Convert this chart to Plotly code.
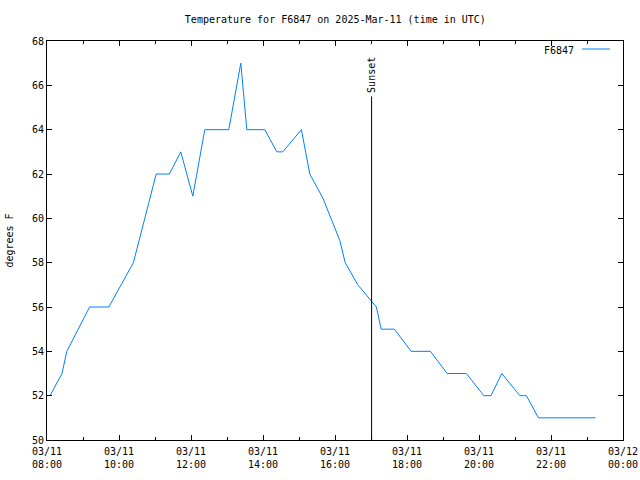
import plotly.graph_objects as go

times = ["08:05", "08:25", "08:33", "09:11", "09:43", "10:24", "11:02", "11:24", "11:43",
         "12:03", "12:23", "13:03", "13:23", "13:33", "14:03", "14:23", "14:33", "15:04",
         "15:18", "15:40", "16:08", "16:17", "16:38", "17:02", "17:09", "17:17",
         "17:39", "18:07", "18:39", "19:07", "19:39", "20:08", "20:20", "20:38", "21:08",
         "21:19", "21:39", "23:14"]
temps = [52, 53, 54, 56, 56, 58, 62, 62, 63,
         61, 64, 64, 67, 64, 64, 63, 63, 64,
         62, 60.9, 59, 58, 57, 56.2, 56, 55,
         55, 54, 54, 53, 53, 52, 52, 53, 52,
         52, 51, 51]
station = "F6847"
date = "2025-03-11"
sunset = "17:01"
tick_vals = ["2025-03-11 08:00", "2025-03-11 10:00", "2025-03-11 12:00", "2025-03-11 14:00",
             "2025-03-11 16:00", "2025-03-11 18:00", "2025-03-11 20:00", "2025-03-11 22:00",
             "2025-03-12 00:00"]
tick_text = ["03/11<br>08:00", "03/11<br>10:00", "03/11<br>12:00", "03/11<br>14:00",
             "03/11<br>16:00", "03/11<br>18:00", "03/11<br>20:00", "03/11<br>22:00",
             "03/12<br>00:00"]

x = [f"{date} {t}" for t in times]
FONT = "DejaVu Sans Mono"
BLUE = "rgb(0,128,255)"

fig = go.Figure()
fig.add_trace(go.Scatter(x=x, y=temps, mode="lines", name=station,
                         line=dict(color=BLUE, width=1), showlegend=False))

sx = f"{date} {sunset}"
fig.add_shape(type="line", x0=sx, x1=sx, y0=50, y1=65.5, xref="x", yref="y",
              line=dict(color="black", width=1))
fig.add_annotation(x=sx, y=65.55, text="Sunset", textangle=-90, showarrow=False,
                   xanchor="center", yanchor="bottom", font=dict(family=FONT, size=10, color="black"))

pw, ph = 640 - 47 - 17, 480 - 41 - 40
def px(xp):
    return (xp - 47) / pw
def py(yp):
    return (480 - 40 - yp) / ph

# legend (gnuplot style: text then line sample)
fig.add_annotation(x=px(576), y=py(50), xref="paper", yref="paper", text=station, showarrow=False,
                   xanchor="right", yanchor="middle", font=dict(family=FONT, size=10, color="black"))
fig.add_shape(type="line", xref="paper", yref="paper", x0=px(582), x1=px(610), y0=py(49), y1=py(49),
              line=dict(color=BLUE, width=1))

fig.update_layout(
    width=640, height=480,
    margin=dict(l=47, r=17, t=41, b=40),
    paper_bgcolor="white", plot_bgcolor="white",
    font=dict(family=FONT, size=10, color="black"),
    title=dict(text="Temperature for F6847 on 2025-Mar-11 (time in UTC)", x=0.524, xanchor="center",
               y=1 - 19 / 480, yanchor="middle", font=dict(family=FONT, size=10, color="black")),
    showlegend=False,
    xaxis=dict(range=["2025-03-11 08:00", "2025-03-12 00:00"], tickvals=tick_vals, ticktext=tick_text,
               ticks="inside", ticklen=5, tickcolor="black", showline=True, linecolor="black",
               linewidth=1, mirror="allticks", showgrid=False, zeroline=False, automargin=False,
               ticklabelstandoff=2,
               minor=dict(ticks="inside", dtick=3600000, ticklen=3, tickcolor="black", showgrid=False)),
    yaxis=dict(range=[50, 68], dtick=2, ticks="inside", ticklen=5, tickcolor="black", showline=True,
               linecolor="black", linewidth=1, mirror="allticks", showgrid=False, zeroline=False,
               automargin=False,
               title=dict(text="degrees F", standoff=16, font=dict(family=FONT, size=10))),
)

fig.write_html("out.html")
